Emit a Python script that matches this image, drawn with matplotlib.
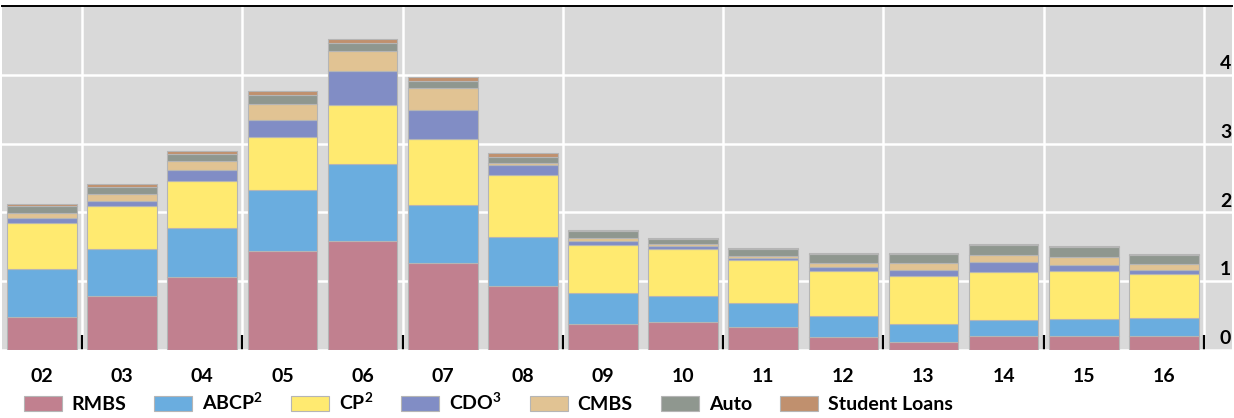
import numpy as np
import matplotlib
matplotlib.use('Agg')
import matplotlib.pyplot as plt

plt.rcParams['font.family'] = ['Lato', 'DejaVu Sans']
plt.rcParams['mathtext.default'] = 'regular'

# years on the x axis
years = ['02', '03', '04', '05', '06', '07', '08', '09', '10', '11', '12', '13', '14', '15', '16']

# stacked series
rmbs    = [0.48, 0.79, 1.06, 1.44, 1.59, 1.27, 0.93, 0.38, 0.41, 0.33, 0.19, 0.12, 0.21, 0.20, 0.20]
abcp    = [0.70, 0.68, 0.72, 0.88, 1.12, 0.84, 0.71, 0.45, 0.38, 0.35, 0.31, 0.26, 0.23, 0.25, 0.26]
cp      = [0.66, 0.62, 0.67, 0.77, 0.85, 0.95, 0.90, 0.69, 0.68, 0.63, 0.65, 0.69, 0.70, 0.70, 0.65]
cdo     = [0.08, 0.08, 0.17, 0.25, 0.50, 0.43, 0.15, 0.07, 0.04, 0.03, 0.06, 0.10, 0.14, 0.09, 0.06]
cmbs    = [0.07, 0.10, 0.13, 0.24, 0.29, 0.32, 0.03, 0.04, 0.03, 0.03, 0.05, 0.10, 0.10, 0.11, 0.08]
auto    = [0.10, 0.10, 0.10, 0.12, 0.11, 0.10, 0.09, 0.10, 0.08, 0.10, 0.14, 0.13, 0.14, 0.14, 0.13]
student = [0.03, 0.04, 0.04, 0.06, 0.06, 0.06, 0.05, 0.02, 0.015, 0.015, 0.015, 0.015, 0.015, 0.015, 0.015]

series = [rmbs, abcp, cp, cdo, cmbs, auto, student]
labels = ['RMBS', 'ABCP$^{2}$', 'CP$^{2}$', 'CDO$^{3}$', 'CMBS', 'Auto', 'Student Loans']
colors = ['#C1808F', '#6AADDF', '#FFEA70', '#818DC5', '#E1C393', '#8F978F', '#C0906E']

yticks = [0, 1, 2, 3, 4]

fig = plt.figure(figsize=(12.34, 4.18), dpi=100)
ax = fig.add_axes([2 / 1234, 1 - 350 / 418, 1230 / 1234, 344 / 418])
ax.set_facecolor('#D9D9D9')

x = np.arange(len(years))
bottom = np.zeros(len(years))
for vals, lab, col in zip(series, labels, colors):
    ax.bar(x, vals, width=0.87, bottom=bottom, color=col, label=lab,
           edgecolor='#B5B5B5', linewidth=0.8)
    bottom += np.array(vals)

ax.set_xlim(-0.5, 14.85)
ax.set_ylim(0, 5)

# gridlines
ax.set_axisbelow(True)
ax.set_yticks(yticks)
ax.set_yticklabels([])
ax.tick_params(axis='y', length=0)
ax.grid(axis='y', color='white', linewidth=1.8)
ax.set_xticks(np.arange(0.5, 15, 2), minor=True)
ax.grid(axis='x', which='minor', color='white', linewidth=1.8)

ax.set_xticks(x)
ax.set_xticklabels(years, fontsize=14, fontweight='bold')
ax.tick_params(axis='x', which='major', length=0, pad=13)
ax.tick_params(axis='x', which='minor', length=11, width=1.6, direction='in', color='black')

# y labels sit inside the plot on the right
for t in yticks:
    ax.annotate(str(t), xy=(14.84, t), xytext=(0, 2), textcoords='offset points',
                ha='right', va='bottom', fontsize=14, fontweight='bold')

for s in ['left', 'right', 'bottom']:
    ax.spines[s].set_visible(False)
ax.spines['top'].set_linewidth(1.4)
ax.spines['top'].set_color('black')

fig.legend(loc='lower left', bbox_to_anchor=(14 / 1234, -0.012), ncol=7, frameon=False,
           handlelength=1.95, handleheight=0.8, handletextpad=0.5,
           columnspacing=1.45, borderaxespad=0.1, prop={'weight': 'bold', 'size': 14})

fig.savefig('out.png', dpi=100)
